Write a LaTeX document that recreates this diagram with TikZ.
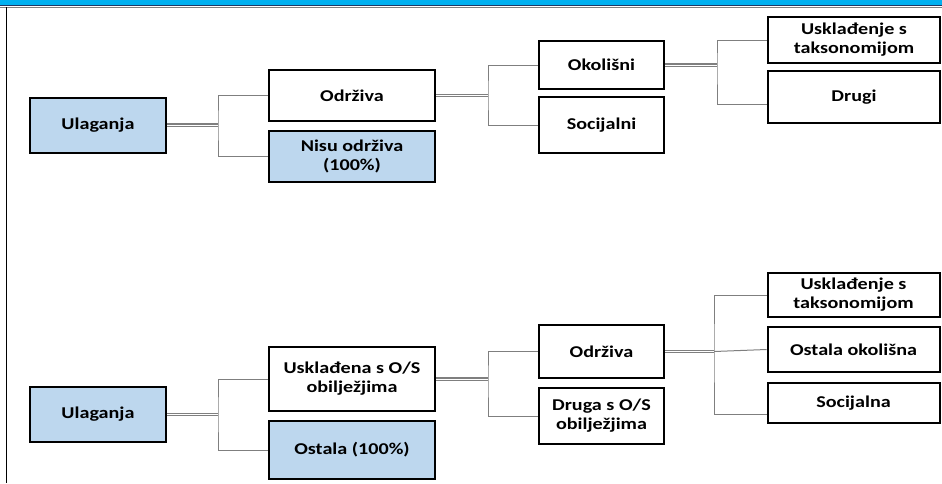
\documentclass[tikz,border=0pt]{standalone}
\usepackage{fontspec}
\setmainfont{Carlito}[FakeStretch=1.22]
\usepackage{tikz}
\usetikzlibrary{positioning}
\definecolor{boxblue}{HTML}{BDD7EE}
\definecolor{linegray}{HTML}{7F7F7F}
\definecolor{barblue}{HTML}{00B0F0}
\definecolor{barnavy}{HTML}{1F3864}
\tikzstyle{box} = [rectangle, text centered, align=center, draw=black, line width=2pt, font=\bfseries\fontsize{16.5}{19}\selectfont, inner sep=1pt]
\tikzstyle{rootbox} = [box, fill=boxblue, minimum width=136pt, minimum height=55pt]
\tikzstyle{midbox} = [box, fill=white, minimum width=166pt]
\tikzstyle{restbox} = [box, fill=boxblue, minimum width=166pt]
\tikzstyle{subbox} = [box, fill=white, minimum width=125pt]
\tikzstyle{leafbox} = [box, fill=white, minimum width=172pt]
\tikzstyle{link} = [draw=linegray, line width=1pt]
\tikzstyle{stem} = [draw=linegray, line width=1.1pt, double=white, double distance=1pt]

\begin{document}
\begin{tikzpicture}[x=1pt, y=-1pt]
\useasboundingbox (0,0) rectangle (942,483);

% Frame
\fill [barblue] (0,0) rectangle (942,4.5);
\fill [barnavy] (0,4.5) rectangle (942,6);
\draw [linegray, line width=0.8pt] (0,7) -- (942,7);
\draw [black, line width=1.2pt] (6.5,7) -- (6.5,483);

% Nodes (upper tree)
\node (ul1) [rootbox] at (98,125) {Ulaganja};
\node (odr1) [midbox, minimum height=51pt] at (352,95.5) {Održiva};
\node (nisu) [restbox, minimum height=51pt, below=8pt of odr1] {Nisu održiva\\(100\%)};
\node (okol) [subbox, minimum height=48pt] at (601.5,65) {Okolišni};
\node (soc) [subbox, minimum height=56pt] at (601.5,125) {Socijalni};
\node (usk1) [leafbox, minimum height=46pt] at (854,40) {Usklađenje s\\taksonomijom};
\node (drugi) [leafbox, minimum height=52pt, below=6pt of usk1] {Drugi};

% Nodes (lower tree)
\node (ul2) [rootbox] at (98,414.5) {Ulaganja};
\node (uskl) [midbox, minimum height=64pt] at (352,379) {Usklađena s O/S\\obilježjima};
\node (ost) [restbox, minimum height=58pt, below=8pt of uskl] {Ostala (100\%)};
\node (odr2) [subbox, minimum height=53pt] at (601.5,351.5) {Održiva};
\node (druga) [subbox, minimum height=56pt, below=8pt of odr2] {Druga s O/S\\obilježjima};
\node (usk2) [leafbox, minimum height=44pt] at (853.5,295) {Usklađenje s\\taksonomijom};
\node (ostok) [leafbox, minimum height=45pt, below=8pt of usk2] {Ostala okolišna};
\node (socn) [leafbox, minimum height=40pt, below=9pt of ostok] {Socijalna};

% Connectors (upper tree)
\draw [link] (odr1.west) -| ([xshift=51pt]ul1.east) coordinate (j1) |- (nisu.west);
\draw [stem] (ul1.east) -- (j1);
\draw [link] (okol.west) -| ([xshift=52pt]odr1.east) coordinate (j2) |- (soc.west);
\draw [stem] (odr1.east) -- (j2);
\draw [link] (usk1.west) -| ([xshift=52pt]okol.east) coordinate (j3) |- ([yshift=-7pt]drugi.west);
\draw [stem] (okol.east) -- (j3);

% Connectors (lower tree)
\draw [link] (uskl.west) -| ([xshift=51pt]ul2.east) coordinate (j4) |- (ost.west);
\draw [stem] (ul2.east) -- (j4);
\draw [link] (odr2.west) -| ([xshift=52pt]uskl.east) coordinate (j5) |- (druga.west);
\draw [stem] (uskl.east) -- (j5);
\draw [link] (usk2.west) -| ([xshift=49pt]odr2.east) coordinate (j6) |- ([yshift=-11pt]socn.west);
\draw [link] (j6) -- (ostok.west);
\draw [stem] (odr2.east) -- (j6);

\end{tikzpicture}
\end{document}
